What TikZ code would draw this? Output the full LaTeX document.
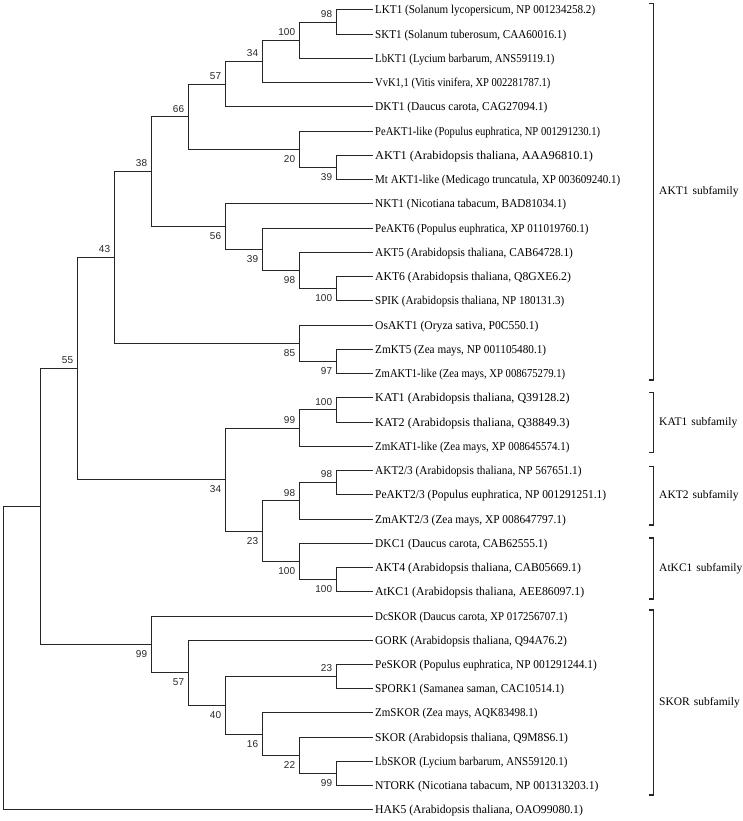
\documentclass[tikz,border=0pt]{standalone}
\usepackage{fontspec}
\usepackage{graphicx}
\setmainfont{Liberation Serif}
\newfontfamily\bsfam{Liberation Sans}
\begin{document}
\begin{tikzpicture}[x=1pt,y=-1pt,
  tree/.style={line width=1pt,draw=black!85},
  leaf/.style={anchor=base west,inner sep=0pt,font=\fontsize{12}{14}\selectfont,text=black},
  bs/.style={inner sep=0pt,font=\bsfam\fontsize{10}{12}\selectfont,text=black!85},
  bsup/.style={bs,anchor=south east},
  bsdn/.style={bs,anchor=north east},
  brk/.style={line width=1.3pt,draw=black!85},
  fam/.style={anchor=west,inner sep=0pt,font=\fontsize{11.5}{13}\selectfont,text=black}]
\useasboundingbox (0,0) rectangle (743,821);
% leaves
\foreach \i/\w/\t in {
 0/220/{LKT1 (Solanum lycopersicum, NP 001234258.2)},
 1/191/{SKT1 (Solanum tuberosum, CAA60016.1)},
 2/179.3/{LbKT1 (Lycium barbarum, ANS59119.1)},
 3/175.3/{VvK1,1 (Vitis vinifera, XP 002281787.1)},
 4/172.3/{DKT1 (Daucus carota, CAG27094.1)},
 5/225/{PeAKT1-like (Populus euphratica, NP 001291230.1)},
 6/217.7/{AKT1 (Arabidopsis thaliana, AAA96810.1)},
 7/245/{Mt AKT1-like (Medicago truncatula, XP 003609240.1)},
 8/191/{NKT1 (Nicotiana tabacum, BAD81034.1)},
 9/213.3/{PeAKT6 (Populus euphratica, XP 011019760.1)},
 10/197.7/{AKT5 (Arabidopsis thaliana, CAB64728.1)},
 11/195.7/{AKT6 (Arabidopsis thaliana, Q8GXE6.2)},
 12/189/{SPIK (Arabidopsis thaliana, NP 180131.3)},
 13/163.3/{OsAKT1 (Oryza sativa, P0C550.1)},
 14/171/{ZmKT5 (Zea mays, NP 001105480.1)},
 15/190/{ZmAKT1-like (Zea mays, XP 008675279.1)},
 16/194.3/{KAT1 (Arabidopsis thaliana, Q39128.2)},
 17/194.3/{KAT2 (Arabidopsis thaliana, Q38849.3)},
 18/194.3/{ZmKAT1-like (Zea mays, XP 008645574.1)},
 19/206.3/{AKT2/3 (Arabidopsis thaliana, NP 567651.1)},
 20/231/{PeAKT2/3 (Populus euphratica, NP 001291251.1)},
 21/190.7/{ZmAKT2/3 (Zea mays, XP 008647797.1)},
 22/172.3/{DKC1 (Daucus carota, CAB62555.1)},
 23/205.7/{AKT4 (Arabidopsis thaliana, CAB05669.1)},
 24/209/{AtKC1 (Arabidopsis thaliana, AEE86097.1)},
 25/192.3/{DcSKOR (Daucus carota, XP 017256707.1)},
 26/191.7/{GORK (Arabidopsis thaliana, Q94A76.2)},
 27/221.7/{PeSKOR (Populus euphratica, NP 001291244.1)},
 28/189/{SPORK1 (Samanea saman, CAC10514.1)},
 29/162.3/{ZmSKOR (Zea mays, AQK83498.1)},
 30/192.7/{SKOR (Arabidopsis thaliana, Q9M8S6.1)},
 31/192.3/{LbSKOR (Lycium barbarum, ANS59120.1)},
 32/223.3/{NTORK (Nicotiana tabacum, NP 001313203.1)},
 33/207.7/{HAK5 (Arabidopsis thaliana, OAO99080.1)}}
{
  \coordinate (t\i) at (372.5,{10+24.24*\i});
  \node[leaf] (n\i) at (375,{14+24.24*\i}) {\resizebox{\w pt}{\height}{\t}};
}
% internal nodes
\coordinate (A) at (336.3,22.12);
\coordinate (B) at (299.3,40.3);
\coordinate (C) at (262.3,61.51);
\coordinate (D) at (225.3,84.24);
\coordinate (G) at (336.3,167.56);
\coordinate (F) at (299.3,149.38);
\coordinate (E) at (188.3,116.81);
\coordinate (L) at (336.3,288.76);
\coordinate (K) at (299.3,270.58);
\coordinate (J) at (262.3,249.37);
\coordinate (I) at (225.3,226.65);
\coordinate (H) at (151.3,171.73);
\coordinate (O) at (336.3,361.48);
\coordinate (N) at (299.3,343.3);
\coordinate (M) at (114.3,257.52);
\coordinate (T) at (336.3,409.96);
\coordinate (R) at (299.3,428.14);
\coordinate (W) at (336.3,482.68);
\coordinate (U) at (299.3,500.86);
\coordinate (X) at (336.3,579.64);
\coordinate (V) at (299.3,561.46);
\coordinate (S) at (262.3,531.16);
\coordinate (Q) at (225.3,479.65);
\coordinate (P) at (77.3,368.59);
\coordinate (sA) at (336.3,676.6);
\coordinate (sB) at (336.3,773.56);
\coordinate (sC) at (299.3,755.38);
\coordinate (sD) at (262.3,734.17);
\coordinate (sE) at (225.3,705.39);
\coordinate (sF) at (188.3,672.82);
\coordinate (sG) at (151.3,644.41);
\coordinate (Z) at (40.3,506.5);
\coordinate (root) at (3.3,658.2);
% branches
\foreach \p/\c in {A/t0,A/t1,B/A,B/t2,C/B,C/t3,D/C,D/t4,E/D,E/F,F/t5,F/G,G/t6,G/t7,
  H/E,H/I,I/t8,I/J,J/t9,J/K,K/t10,K/L,L/t11,L/t12,M/H,M/N,N/t13,N/O,O/t14,O/t15,
  P/M,P/Q,Q/R,Q/S,R/T,R/t18,T/t16,T/t17,S/U,S/V,U/W,U/t21,W/t19,W/t20,V/t22,V/X,X/t23,X/t24,
  Z/P,Z/sG,sG/t25,sG/sF,sF/t26,sF/sE,sE/sA,sE/sD,sA/t27,sA/t28,sD/t29,sD/sC,sC/t30,sC/sB,sB/t31,sB/t32,
  root/Z,root/t33}
  \draw[tree] (\p) |- (\c);
% bootstrap values
\foreach \p/\v in {A/98,B/100,C/34,D/57,E/66,H/38,M/43,P/55,R/99,T/100,U/98,W/98,sA/23}
  \node[bsup] (b\p) at ([shift={(-4,-4.5)}]\p) {\v};
\foreach \p/\v in {F/20,G/39,I/56,J/39,K/98,L/100,N/85,O/97,Q/34,S/23,V/100,X/100,sG/99,sF/57,sE/40,sD/16,sC/22,sB/99}
  \node[bsdn] (b\p) at ([shift={(-4,6)}]\p) {\v};
% subfamily brackets
\foreach \k/\a/\b/\lab in {f1/3.3/380/{AKT1\hspace{4pt}subfamily},
  f2/392.7/452.7/{KAT1\hspace{4pt}subfamily},
  f3/466.7/525/{AKT2\hspace{4pt}subfamily},
  f4/538/599/{AtKC1\hspace{4pt}subfamily},
  f5/610/795/{SKOR\hspace{4pt}subfamily}}
{
  \coordinate (\k t) at (653.3,\a);
  \coordinate (\k b) at (653.3,\b);
  \draw[brk] ([xshift=-4.5pt]\k t) -- (\k t) -- (\k b) -- ([xshift=-4.5pt]\k b);
  \node[fam] (\k l) at (659,{(\a+\b)/2}) {\lab};
}
\end{tikzpicture}
\end{document}
